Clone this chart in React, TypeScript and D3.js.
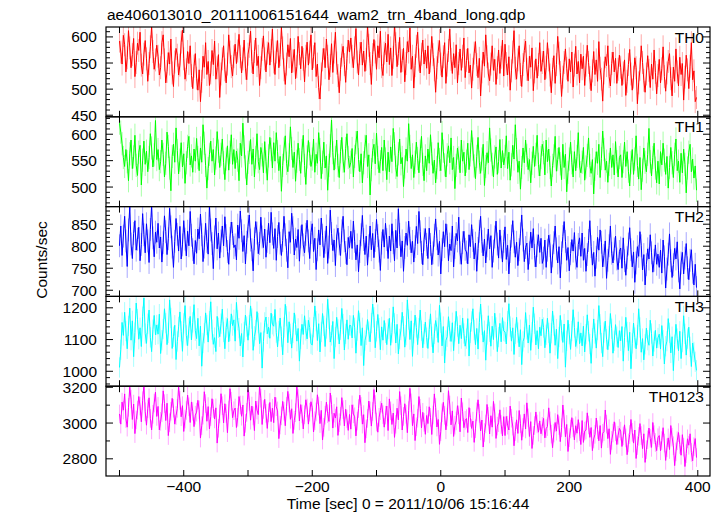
import React from "react";
import * as d3 from "d3";

const TITLE = "ae406013010_20111006151644_wam2_trn_4band_long.qdp";
const X_LABEL = "Time [sec] 0 = 2011/10/06 15:16:44";
const Y_LABEL = "Counts/sec";

const T_START = -500;
const T_STEP = 2;
const X_DOMAIN = [-521, 419];
const X_TICKS = [-500, -400, -300, -200, -100, 0, 100, 200, 300, 400];
const X_LABELED = [-400, -200, 0, 200, 400];

const TH0 = [
  592, 571, 548, 603, 585, 533, 560, 612, 579, 541, 566, 597, 524, 551, 588, 574, 609, 546, 529, 567, 593, 558, 515, 549, 581, 620, 572, 538, 556, 584,
  563, 527, 541, 589, 604, 556, 512, 534, 570, 548, 596, 531, 505, 552, 578, 565, 527, 546, 590, 613, 558, 519, 537, 572, 549, 583, 526, 501, 544, 568,
  521, 498, 537, 476, 515, 563, 542, 589, 528, 553, 507, 531, 574, 547, 592, 519, 541, 566, 484, 529, 558, 583, 537, 512, 548, 604, 571, 543, 525, 562,
  586, 549, 573, 605, 562, 531, 558, 594, 540, 518, 567, 582, 611, 553, 529, 572, 598, 545, 563, 507, 541, 576, 602, 558, 533, 569, 589, 546, 574, 615,
  552, 528, 571, 593, 541, 566, 618, 579, 537, 509, 548, 585, 562, 597, 531, 554, 576, 520, 543, 601, 568, 539, 582, 557, 514, 563, 590, 546, 571, 604,
  537, 562, 589, 524, 548, 503, 481, 529, 556, 578, 541, 596, 563, 518, 545, 587, 532, 571, 609, 550, 526, 493, 538, 565, 582, 547, 513, 559, 594, 571,
  598, 563, 541, 579, 616, 552, 527, 568, 590, 546, 573, 534, 557, 622, 584, 549, 509, 566, 595, 571, 538, 583, 560, 611, 543, 526, 569, 588, 552, 605,
  547, 579, 526, 561, 624, 587, 543, 568, 599, 532, 555, 578, 514, 549, 591, 571, 617, 538, 563, 502, 545, 582, 609, 556, 531, 567, 594, 548, 575, 540,
  583, 529, 554, 601, 566, 537, 494, 541, 572, 593, 548, 523, 562, 589, 511, 546, 574, 615, 557, 530, 568, 541, 585, 512, 549, 577, 536, 563, 598, 522,
  555, 578, 531, 546, 502, 538, 569, 591, 547, 522, 559, 487, 533, 571, 544, 604, 562, 529, 516, 548, 583, 536, 557, 509, 541, 575, 530, 561, 594, 525,
  586, 549, 527, 562, 498, 535, 571, 612, 540, 519, 556, 583, 528, 505, 547, 574, 592, 538, 516, 563, 542, 579, 497, 533, 558, 521, 547, 589, 534, 551,
  573, 518, 542, 589, 556, 527, 493, 538, 564, 511, 547, 601, 569, 532, 486, 523, 551, 577, 540, 515, 558, 533, 571, 504, 546, 582, 529, 553, 512, 567,
  539, 563, 507, 546, 584, 551, 522, 497, 535, 572, 528, 556, 515, 591, 540, 519, 477, 531, 562, 545, 583, 524, 506, 549, 571, 533, 559, 511, 538, 565,
  542, 507, 531, 556, 488, 515, 547, 576, 529, 498, 523, 560, 541, 472, 512, 538, 583, 551, 517, 494, 529, 564, 536, 503, 548, 519, 575, 532, 491, 526,
  557, 512, 539, 581, 524, 496, 531, 553, 568, 520, 487, 542, 515, 577, 533, 506, 561, 528, 549, 479, 523, 565, 537, 501, 544, 589, 518, 535, 476, 484,
];

const TH1 = [
  621, 604, 582, 556, 539, 571, 548, 512, 563, 589, 535, 557, 598, 541, 522, 566, 579, 504, 551, 587, 543, 568, 529, 556, 601, 574, 538, 561, 626, 552,
  571, 533, 548, 589, 562, 519, 545, 604, 577, 536, 493, 558, 581, 547, 612, 569, 525, 551, 584, 538, 563, 507, 546, 577, 596, 542, 559, 528, 572, 549,
  592, 556, 531, 574, 547, 618, 583, 541, 498, 535, 562, 587, 549, 571, 523, 555, 605, 568, 537, 562, 591, 546, 514, 553, 578, 532, 566, 599, 543, 571,
  535, 568, 551, 512, 583, 559, 621, 576, 538, 504, 547, 566, 590, 543, 572, 519, 556, 601, 548, 533, 575, 561, 527, 586, 548, 513, 559, 594, 571, 536,
  584, 549, 603, 567, 531, 558, 492, 541, 572, 597, 545, 529, 561, 614, 573, 537, 566, 511, 549, 583, 552, 526, 569, 598, 541, 505, 557, 588, 563, 539,
  553, 591, 528, 562, 545, 603, 571, 516, 547, 585, 536, 559, 494, 541, 578, 627, 565, 532, 556, 589, 541, 518, 567, 594, 549, 528, 573, 601, 556, 537,
  547, 573, 519, 558, 584, 606, 552, 529, 563, 508, 546, 577, 598, 539, 561, 485, 533, 569, 581, 544, 602, 556, 527, 548, 575, 531, 589, 553, 514, 566,
  529, 576, 548, 611, 582, 537, 520, 563, 591, 544, 556, 501, 538, 572, 549, 620, 577, 535, 561, 518, 547, 585, 554, 527, 568, 596, 543, 512, 559, 531,
  572, 545, 599, 563, 526, 551, 508, 537, 584, 552, 531, 603, 568, 542, 519, 561, 578, 546, 593, 533, 556, 497, 541, 574, 555, 527, 589, 549, 566, 521,
  549, 583, 533, 561, 607, 572, 540, 516, 558, 594, 547, 526, 553, 581, 503, 539, 565, 546, 612, 570, 543, 519, 557, 576, 524, 548, 590, 536, 569, 542,
  558, 597, 535, 566, 513, 542, 579, 553, 618, 571, 528, 549, 496, 537, 574, 546, 589, 560, 533, 552, 508, 545, 577, 539, 562, 598, 543, 521, 556, 581,
  565, 523, 589, 548, 572, 537, 502, 541, 559, 596, 530, 552, 575, 544, 514, 581, 537, 562, 491, 528, 553, 585, 546, 519, 567, 531, 558, 603, 540, 527,
  547, 575, 513, 538, 560, 593, 541, 526, 552, 487, 534, 567, 545, 581, 518, 554, 606, 571, 532, 549, 509, 543, 574, 537, 561, 523, 586, 548, 519, 556,
  561, 518, 548, 585, 539, 567, 530, 502, 546, 571, 524, 553, 597, 541, 515, 556, 495, 532, 574, 547, 529, 562, 611, 548, 521, 556, 583, 536, 508, 549,
  506, 567, 542, 583, 551, 524, 558, 498, 537, 575, 546, 518, 562, 591, 531, 549, 509, 564, 527, 572, 543, 489, 536, 566, 581, 529, 553, 517, 540, 494,
];

const TH2 = [
  801, 846, 779, 823, 868, 812, 754, 837, 889, 805, 772, 829, 858, 791, 816, 843, 767, 804, 874, 826, 785, 851, 812, 763, 838, 893, 819, 776, 832, 809,
  852, 796, 821, 764, 808, 869, 833, 781, 817, 886, 844, 798, 752, 811, 863, 827, 789, 845, 771, 803, 858, 816, 778, 834, 801, 879, 825, 792, 760, 813,
  784, 839, 817, 873, 826, 765, 798, 852, 811, 782, 893, 837, 806, 749, 821, 864, 794, 830, 773, 812, 846, 801, 867, 824, 788, 759, 818, 855, 829, 797,
  803, 769, 848, 818, 880, 835, 788, 824, 760, 809, 845, 871, 814, 792, 744, 817, 856, 830, 783, 806, 866, 821, 797, 839, 775, 811, 852, 808, 877, 828,
  795, 840, 768, 822, 854, 807, 779, 813, 868, 826, 791, 751, 833, 809, 875, 842, 780, 816, 797, 838, 766, 821, 849, 803, 785, 827, 859, 812, 772, 831,
  851, 788, 818, 747, 792, 837, 803, 864, 825, 774, 809, 846, 761, 798, 882, 829, 790, 814, 756, 823, 841, 805, 779, 835, 868, 812, 786, 758, 820, 797,
  834, 795, 857, 811, 769, 803, 742, 788, 826, 870, 815, 781, 823, 757, 801, 846, 792, 829, 774, 813, 861, 824, 789, 745, 807, 838, 798, 852, 815, 772,
  823, 789, 851, 808, 767, 836, 796, 885, 827, 776, 812, 743, 797, 830, 802, 857, 818, 785, 811, 764, 799, 845, 806, 879, 833, 786, 758, 815, 840, 804,
  772, 841, 804, 758, 785, 825, 862, 817, 780, 811, 737, 792, 833, 799, 851, 824, 767, 805, 790, 846, 753, 797, 829, 812, 866, 785, 759, 808, 834, 793,
  787, 760, 826, 799, 849, 813, 771, 807, 743, 795, 834, 868, 811, 778, 816, 762, 801, 839, 794, 824, 752, 789, 821, 857, 805, 773, 837, 798, 764, 811,
  844, 770, 802, 737, 788, 823, 858, 810, 775, 809, 756, 792, 828, 871, 814, 765, 797, 807, 747, 785, 832, 796, 840, 779, 753, 801, 826, 786, 818, 761,
  773, 814, 752, 791, 825, 801, 739, 778, 808, 846, 794, 762, 799, 728, 785, 822, 856, 811, 768, 797, 744, 783, 815, 789, 831, 773, 752, 804, 819, 777,
  830, 768, 795, 743, 781, 813, 858, 799, 757, 786, 732, 775, 820, 791, 837, 809, 753, 779, 812, 727, 768, 801, 846, 784, 762, 794, 823, 771, 747, 788,
  796, 750, 819, 767, 734, 774, 805, 842, 792, 753, 787, 718, 762, 799, 777, 833, 801, 746, 781, 712, 758, 794, 771, 826, 785, 741, 768, 803, 759, 782,
  752, 791, 739, 814, 776, 705, 748, 782, 828, 767, 729, 758, 795, 771, 810, 744, 703, 762, 786, 737, 773, 806, 751, 724, 768, 792, 741, 712, 759, 706,
];

const TH3 = [
  1012, 1068, 1154, 1113, 1186, 1127, 1071, 1143, 1199, 1098, 1159, 1046, 1122, 1215, 1164, 1101, 1137, 1078, 1172, 1231, 1119, 1088, 1150, 1193, 1107, 1062, 1131, 1176, 1115, 1146,
  1117, 1180, 1056, 1098, 1133, 1197, 1152, 1084, 1121, 1225, 1168, 1072, 1109, 1145, 1037, 1094, 1140, 1187, 1126, 1063, 1151, 1207, 1113, 1081, 1136, 1173, 1099, 1154, 1210, 1128,
  1103, 1167, 1080, 1142, 1016, 1089, 1120, 1184, 1146, 1092, 1158, 1219, 1131, 1085, 1106, 1062, 1173, 1137, 1109, 1150, 1196, 1124, 1071, 1138, 1166, 1093, 1127, 1181, 1144, 1162,
  1095, 1217, 1161, 1136, 1080, 1119, 1045, 1124, 1177, 1141, 1098, 1145, 1206, 1166, 1066, 1110, 1130, 1188, 1152, 1087, 1122, 1010, 1094, 1154, 1171, 1118, 1139, 1104, 1183, 1148,
  1142, 1195, 1122, 1077, 1127, 1168, 1109, 1052, 1138, 1211, 1174, 1090, 1156, 1118, 1073, 1121, 1184, 1147, 1095, 1135, 1032, 1102, 1148, 1116, 1175, 1129, 1102, 1161, 1138, 1087,
  1083, 1139, 1206, 1158, 1097, 1150, 1061, 1124, 1182, 1143, 1078, 1135, 1227, 1165, 1092, 1113, 1157, 1040, 1108, 1170, 1132, 1086, 1131, 1198, 1149, 1067, 1118, 1162, 1101, 1145,
  1144, 1105, 1176, 1137, 1057, 1128, 1191, 1152, 1081, 1137, 1018, 1097, 1115, 1163, 1125, 1093, 1152, 1212, 1170, 1074, 1126, 1179, 1136, 1068, 1140, 1098, 1160, 1121, 1084, 1133,
  1167, 1082, 1122, 1203, 1151, 1089, 1148, 1055, 1102, 1130, 1186, 1142, 1076, 1114, 1225, 1163, 1100, 1159, 1047, 1120, 1177, 1138, 1084, 1136, 1193, 1128, 1074, 1117, 1155, 1106,
  1072, 1132, 1181, 1109, 1058, 1118, 1160, 1137, 1091, 1208, 1153, 1080, 1141, 1026, 1097, 1109, 1172, 1126, 1094, 1153, 1065, 1126, 1189, 1141, 1087, 1145, 1103, 1168, 1119, 1079,
  1103, 1166, 1048, 1121, 1157, 1197, 1130, 1084, 1135, 1070, 1154, 1212, 1146, 1092, 1128, 1035, 1116, 1175, 1124, 1079, 1142, 1100, 1183, 1138, 1062, 1108, 1151, 1093, 1169, 1127,
  1124, 1086, 1158, 1213, 1141, 1095, 1137, 1053, 1118, 1170, 1122, 1077, 1131, 1021, 1094, 1107, 1185, 1132, 1089, 1146, 1066, 1123, 1202, 1150, 1083, 1128, 1071, 1139, 1112, 1164,
  1138, 1074, 1115, 1167, 1121, 1057, 1120, 1190, 1144, 1082, 1133, 1040, 1108, 1176, 1129, 1091, 1149, 1013, 1096, 1161, 1117, 1069, 1127, 1194, 1138, 1078, 1104, 1156, 1087, 1121,
  1080, 1142, 1061, 1117, 1178, 1126, 1086, 1025, 1104, 1165, 1119, 1073, 1130, 1207, 1148, 1089, 1046, 1122, 1158, 1101, 1068, 1111, 1182, 1134, 1057, 1096, 1147, 1109, 1075, 1128,
  1096, 1141, 1032, 1107, 1170, 1124, 1065, 1123, 1008, 1088, 1152, 1106, 1071, 1114, 1197, 1138, 1060, 1103, 1036, 1085, 1136, 1098, 1082, 1161, 1119, 1048, 1094, 1129, 1073, 1105,
  1117, 1070, 1144, 1098, 1023, 1079, 1095, 1166, 1121, 1058, 1109, 1002, 1084, 1148, 1103, 1065, 1126, 1040, 1092, 1175, 1118, 1051, 1103, 1139, 1077, 1015, 1089, 1061, 1030, 1003,
];

const TH0123 = [
  3051, 2994, 3117, 3072, 3163, 3025, 2977, 3088, 3201, 3134, 3020, 3106, 2941, 3018, 3072, 3148, 3095, 3007, 3125, 3215, 3063, 2988, 3080, 3141, 3026, 2962, 3049, 3112, 3173, 3037,
  3093, 2962, 3010, 3057, 3180, 3109, 3014, 3111, 2930, 3002, 3066, 3138, 3083, 2994, 3042, 3082, 3205, 3127, 3035, 3097, 2953, 3022, 3070, 3156, 3091, 3003, 3118, 3066, 2980, 3044,
  3061, 3127, 3074, 2916, 2985, 3044, 3175, 3109, 3010, 3092, 2967, 3036, 3136, 3081, 3023, 3085, 2888, 2971, 3051, 3164, 3097, 3001, 3108, 3053, 2946, 3073, 3192, 3122, 3030, 3069,
  3084, 2975, 3032, 3148, 3101, 3038, 3101, 2927, 2998, 3060, 3186, 3121, 3016, 3095, 3040, 2958, 3123, 3072, 3047, 3210, 3139, 2992, 3076, 3133, 3054, 2970, 3057, 3115, 3008, 3083,
  3002, 3145, 3091, 3068, 2913, 2989, 3040, 3121, 3066, 2985, 3094, 3177, 3112, 3021, 3080, 2942, 3015, 3058, 3202, 3137, 3012, 3103, 3051, 2967, 3046, 3130, 3084, 2994, 3061, 3119,
  3086, 2950, 3013, 3062, 3158, 3095, 2997, 3071, 2905, 2976, 3044, 3117, 3052, 3009, 3168, 3104, 2972, 3055, 3028, 3091, 2931, 3002, 3038, 3142, 3075, 2984, 3077, 3023, 2959, 3048,
  2966, 3102, 3051, 3035, 2928, 3011, 3081, 3156, 3093, 2994, 3047, 2890, 2967, 3026, 3123, 3068, 2983, 3065, 3187, 3104, 3006, 2949, 3032, 3070, 3111, 3047, 2977, 3044, 3095, 2958,
  3135, 3068, 2992, 3056, 2920, 2993, 3083, 3018, 3176, 3097, 2961, 3037, 3108, 3049, 2946, 3070, 3194, 3113, 2985, 3051, 2902, 2979, 3027, 3148, 3082, 2973, 3060, 3004, 2937, 3042,
  2997, 3091, 3032, 2936, 3045, 3163, 3087, 2978, 3020, 2881, 2952, 3057, 3116, 3043, 2962, 3034, 3181, 3101, 2990, 3068, 2925, 2988, 3012, 3097, 3046, 2951, 3140, 3063, 2974, 3015,
  3025, 2947, 3086, 3031, 2970, 3011, 2892, 2968, 3063, 3130, 3054, 2956, 3017, 2866, 2947, 2995, 3104, 3038, 2939, 3041, 2977, 3121, 3056, 2914, 2983, 3002, 3074, 2992, 2928, 3036,
  2930, 3037, 2988, 2961, 3095, 3027, 2983, 2873, 2952, 3018, 2942, 3070, 2996, 2904, 2975, 3051, 2967, 3113, 3029, 2925, 3008, 2858, 2931, 2986, 3062, 2995, 2949, 3012, 2940, 2982,
  3026, 2917, 2969, 2980, 3085, 3012, 2938, 2862, 2944, 3003, 2955, 3047, 2986, 2896, 2974, 3101, 3022, 2923, 2992, 2841, 2918, 2967, 3030, 2974, 2906, 2985, 2943, 3019, 2951, 2880,
  3014, 2892, 2955, 2961, 3057, 2989, 2920, 2975, 2846, 2911, 2937, 3028, 2963, 2901, 2986, 2860, 2943, 2952, 3073, 2994, 2913, 2968, 2825, 2903, 2944, 3007, 2951, 2880, 2932, 2970,
  2955, 2869, 2928, 2990, 2917, 2823, 2889, 2936, 3020, 2948, 2888, 2961, 2802, 2874, 2925, 2997, 2930, 2857, 2940, 2780, 2851, 2906, 2972, 2914, 2864, 3003, 2935, 2891, 2846, 2918,
  2930, 2845, 2902, 2974, 2888, 2791, 2862, 2917, 2852, 2986, 2921, 2873, 2762, 2839, 2901, 2947, 2880, 2820, 2935, 2865, 2757, 2829, 2912, 2876, 2940, 2836, 2789, 2868, 2913, 2807,
];

const PANEL_NAMES = ["TH0", "TH1", "TH2", "TH3", "TH0123"];
const PANEL_SERIES = [TH0, TH1, TH2, TH3, TH0123];
// typical 1-sigma error bar half-length per panel (counts/sec)
const PANEL_ERRORS = [22, 22, 26, 32, 52];
const PANEL_COLORS = ["#ff0000", "#00ff00", "#0000ff", "#00ffff", "#ff00ff"];
const Y_DOMAINS = [
  [447, 619],
  [463, 633],
  [686, 890],
  [953, 1236],
  [2704, 3206],
];
const Y_MAJOR = [
  [450, 500, 550, 600],
  [500, 550, 600],
  [700, 750, 800, 850],
  [1000, 1100, 1200],
  [2800, 3000, 3200],
];
const Y_MINOR_STEP = [10, 10, 10, 20, 100];

const W = 723;
const H = 516;
const LEFT = 106;
const RIGHT = 710;
const TOP = 27;
const BOTTOM = 476;
const FONT = "'Liberation Sans', Arial, Helvetica, sans-serif";
const FS = 15.5;

export default function App() {
  const x = d3.scaleLinear().domain(X_DOMAIN).range([LEFT, RIGHT]);
  const ph = (BOTTOM - TOP) / PANEL_NAMES.length;

  const fmt = (v: number) => (v < 0 ? "\u2212" + Math.abs(v) : String(v));

  return (
    <svg
      width={W}
      height={H}
      style={{ position: "absolute", left: 0, top: 0, background: "#fff" }}
      fontFamily={FONT}
    >
      <rect x={0} y={0} width={W} height={H} fill="#fff" />
      <defs>
        {PANEL_NAMES.map((n, i) => (
          <clipPath id={"clip" + i} key={n}>
            <rect x={LEFT} y={TOP + i * ph} width={RIGHT - LEFT} height={ph} />
          </clipPath>
        ))}
      </defs>
      <text x={LEFT + 1} y={20} fontSize={FS} fill="#000">
        {TITLE}
      </text>
      {PANEL_NAMES.map((name, i) => {
        const top = TOP + i * ph;
        const bot = top + ph;
        const y = d3.scaleLinear().domain(Y_DOMAINS[i]).range([bot, top]);
        const series = PANEL_SERIES[i];
        const err = PANEL_ERRORS[i];
        const line = d3
          .line<number>()
          .x((_, k) => x(T_START + k * T_STEP))
          .y((v) => y(v));
        const bars = series
          .map((v, k) => {
            const xx = x(T_START + k * T_STEP);
            return `M${xx},${y(v - err)}V${y(v + err)}`;
          })
          .join("");
        const [d0, d1] = Y_DOMAINS[i];
        const step = Y_MINOR_STEP[i];
        const minor = d3
          .range(Math.ceil(d0 / step) * step, d1 + 0.001, step)
          .filter((v) => !Y_MAJOR[i].includes(v));
        return (
          <g key={name}>
            <g clipPath={`url(#clip${i})`}>
              <path
                d={bars}
                fill="none"
                stroke={PANEL_COLORS[i]}
                strokeOpacity={0.35}
                strokeWidth={1}
              />
              <path
                d={line(series) || ""}
                fill="none"
                stroke={PANEL_COLORS[i]}
                strokeWidth={1}
              />
            </g>
            {Y_MAJOR[i].map((v) => (
              <g key={"M" + v}>
                <line x1={LEFT} x2={LEFT + 7} y1={y(v)} y2={y(v)} stroke="#000" />
                <line x1={RIGHT} x2={RIGHT - 7} y1={y(v)} y2={y(v)} stroke="#000" />
                <text
                  x={97}
                  y={y(v)}
                  dy="0.36em"
                  textAnchor="end"
                  fontSize={FS}
                  fill="#000"
                >
                  {v}
                </text>
              </g>
            ))}
            {minor.map((v) => (
              <g key={"m" + v}>
                <line x1={LEFT} x2={LEFT + 4} y1={y(v)} y2={y(v)} stroke="#000" />
                <line x1={RIGHT} x2={RIGHT - 4} y1={y(v)} y2={y(v)} stroke="#000" />
              </g>
            ))}
            {X_TICKS.map((t) => (
              <g key={"x" + t}>
                <line x1={x(t)} x2={x(t)} y1={top} y2={top + 6} stroke="#000" />
                <line x1={x(t)} x2={x(t)} y1={bot} y2={bot - 6} stroke="#000" />
              </g>
            ))}
            <rect
              x={LEFT}
              y={top}
              width={RIGHT - LEFT}
              height={ph}
              fill="none"
              stroke="#000"
              strokeWidth={1.2}
            />
            <text
              x={704}
              y={top + 15.5}
              textAnchor="end"
              fontSize={FS}
              fill="#000"
            >
              {name}
            </text>
          </g>
        );
      })}
      {X_LABELED.map((t) => (
        <text
          key={"xl" + t}
          x={x(t)}
          y={492}
          textAnchor="middle"
          fontSize={FS}
          fill="#000"
        >
          {fmt(t)}
        </text>
      ))}
      <text
        x={(LEFT + RIGHT) / 2}
        y={509}
        textAnchor="middle"
        fontSize={FS}
        fill="#000"
      >
        {X_LABEL}
      </text>
      <text
        transform={`translate(47, 260) rotate(-90)`}
        textAnchor="middle"
        fontSize={FS}
        fill="#000"
      >
        {Y_LABEL}
      </text>
    </svg>
  );
}
